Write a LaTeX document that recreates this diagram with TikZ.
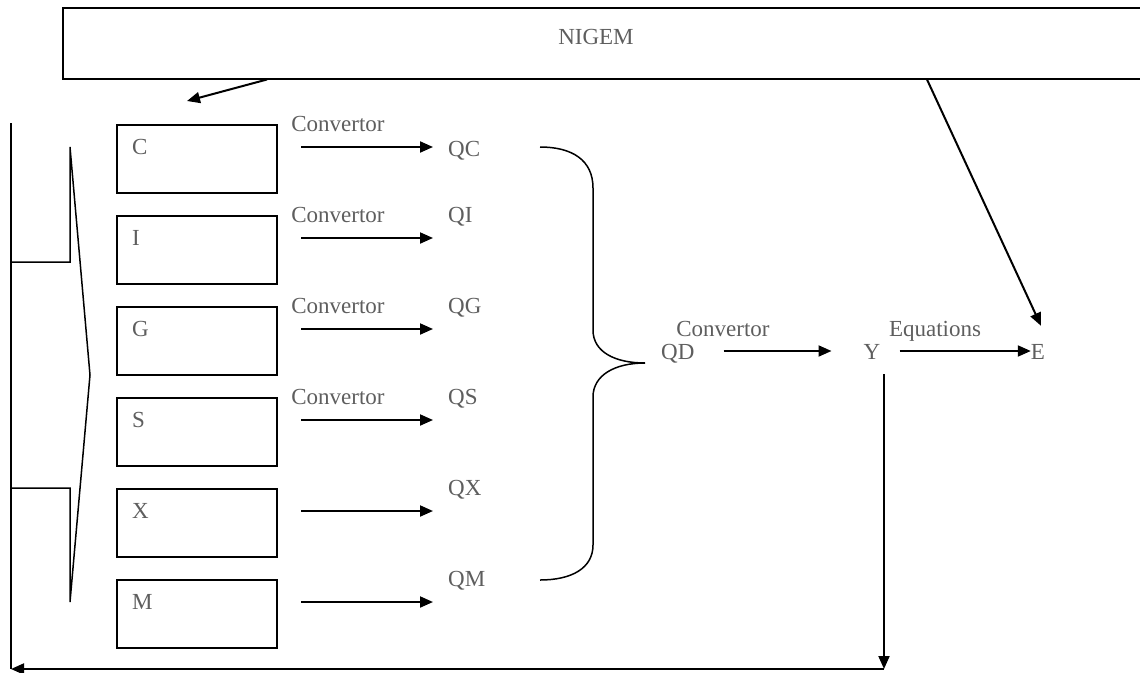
\documentclass[tikz,border=0pt]{standalone}
\usepackage{fontspec}
\setmainfont{Liberation Serif}
\usetikzlibrary{arrows.meta,positioning,calc}
\definecolor{txtgray}{HTML}{5E5E5E}
\tikzset{blockbox/.style={draw,line width=1.5pt,minimum width=160pt,minimum height=68pt,
  anchor=north west,inner sep=0pt},
  lab/.style={text=txtgray,font=\fontsize{23}{26}\selectfont,inner sep=0pt,
  text height=16pt,text depth=0pt},
  arrow/.style={-{Triangle[length=13pt,width=11pt]},line width=2pt},
  thinline/.style={line width=1.5pt}}

\begin{document}
\begin{tikzpicture}[x=1pt,y=-1pt]
\useasboundingbox (0,0) rectangle (1140,672);
\node[draw,line width=1.5pt,minimum width=1090pt,minimum height=71pt,anchor=north west,
  inner sep=0pt] (nigem) at (62,7) {};
\node[lab] (nigemlab) at (596,36) {NIGEM};
\coordinate (cin) at (187,101);
\draw[arrow] ([xshift=205pt]nigem.south west) -- (cin);
\foreach \n/\i in {C/0,I/1,G/2,S/3,X/4,M/5}{
  \node[blockbox] (b\n) at (116,124+91*\i) {};
  \node[lab,anchor=west] (t\n) at (132,146+91*\i) {\n};
  \coordinate (s\n) at (301,147+91*\i);
  \coordinate (e\n) at (433,147+91*\i);
  \draw[arrow] (s\n) -- (e\n);}
\foreach \n/\i in {C/0,I/1,G/2,S/3}{\node[lab] (cv\n) at (338,123+91*\i) {Convertor};}
\node[lab,anchor=west] (qC) at (448,148) {QC};
\foreach \n/\i in {I/1,G/2,S/3,X/4,M/5}{\node[lab,anchor=west] (q\n) at (448,123+91*\i) {Q\n};}
\draw[thinline] (540,147) .. controls (572,147) and (593,160) .. (593,188) -- (593,330)
  .. controls (593,352) and (615,363) .. (645,363) .. controls (615,363) and (593,375) .. (593,397)
  -- (593,545) .. controls (593,568) and (572,580) .. (540,580);
\node[lab] (cvD) at (723,328) {Convertor};
\node[lab,anchor=west] (qD) at (661,351) {QD};
\node[lab] (y) at (872,351) {Y};
\node[lab] (eqn) at (935,328) {Equations};
\node[lab] (e) at (1038,351) {E};
\draw[arrow,shorten <=29pt,shorten >=32pt] (qD) -- (y);
\draw[arrow,shorten <=19pt] (y) -- (e);
\draw[arrow] ([xshift=865pt]nigem.south west) -- ([xshift=3pt,yshift=17pt]e.north);
\coordinate (ybot) at (884,669);
\coordinate (lbot) at (11,669);
\draw[arrow] ([xshift=12pt,yshift=-15pt]y.south) -- (ybot);
\draw[arrow] (ybot) -- (lbot);
\draw[thinline] (11,123) -- (lbot);
\draw[thinline] (11,262) -- (70,262) -- (70,147) -- (90,375) -- (70,602) -- (70,488) -- (11,488);
\end{tikzpicture}
\end{document}
